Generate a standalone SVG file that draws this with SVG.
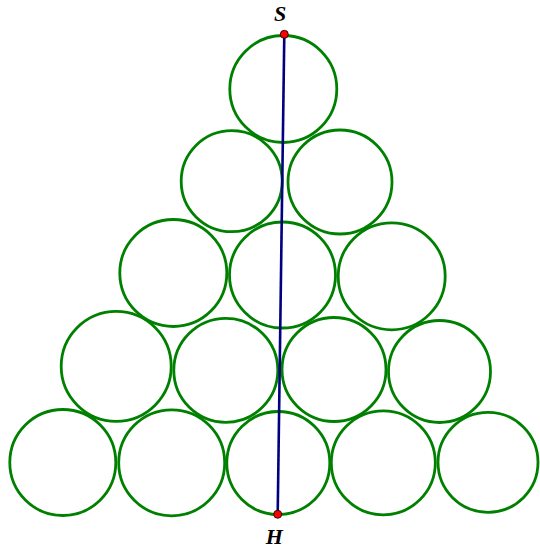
<svg xmlns="http://www.w3.org/2000/svg" width="540" height="548" viewBox="0 0 540 548">
<style>
.c{fill:none;stroke:#008000;stroke-width:2.8}
.p{fill:#ff0000;stroke:#000;stroke-width:0.8}
.l{font-family:"Liberation Serif",serif;font-style:italic;font-weight:bold;font-size:22px;fill:#000;text-anchor:middle}
</style>
<rect width="540" height="548" fill="#fff"/>
<g id="circles">
<circle id="c1" class="c" cx="283.3" cy="89" r="53.5"/>
<circle id="c2" class="c" cx="231.7" cy="181.2" r="50.5"/>
<circle id="c3" class="c" cx="340" cy="182" r="52"/>
<circle id="c4" class="c" cx="173.3" cy="273" r="53.5"/>
<circle id="c5" class="c" cx="282.5" cy="275" r="53"/>
<circle id="c6" class="c" cx="391.7" cy="276.3" r="53.5"/>
<circle id="c7" class="c" cx="116.2" cy="366.3" r="55"/>
<circle id="c8" class="c" cx="225.8" cy="370.3" r="52"/>
<circle id="c9" class="c" cx="334" cy="369.5" r="52"/>
<circle id="c10" class="c" cx="439.5" cy="371.5" r="51"/>
<circle id="c11" class="c" cx="62.8" cy="462.5" r="53"/>
<circle id="c12" class="c" cx="171.7" cy="462.8" r="53"/>
<circle id="c13" class="c" cx="278.3" cy="463" r="51.5"/>
<circle id="c14" class="c" cx="383.3" cy="462.8" r="52"/>
<circle id="c15" class="c" cx="488" cy="462.3" r="50"/>
</g>
<g id="connectors">
<line x1="284.3" y1="34.3" x2="277.7" y2="514.3" stroke="#000080" stroke-width="2.6"/>
</g>
<g id="S">
<circle class="p" cx="284.3" cy="34.3" r="4"/>
<text class="l" x="280" y="21">S</text>
</g>
<g id="H">
<circle class="p" cx="277.7" cy="514.3" r="4"/>
<text class="l" x="274.3" y="544">H</text>
</g>
</svg>
